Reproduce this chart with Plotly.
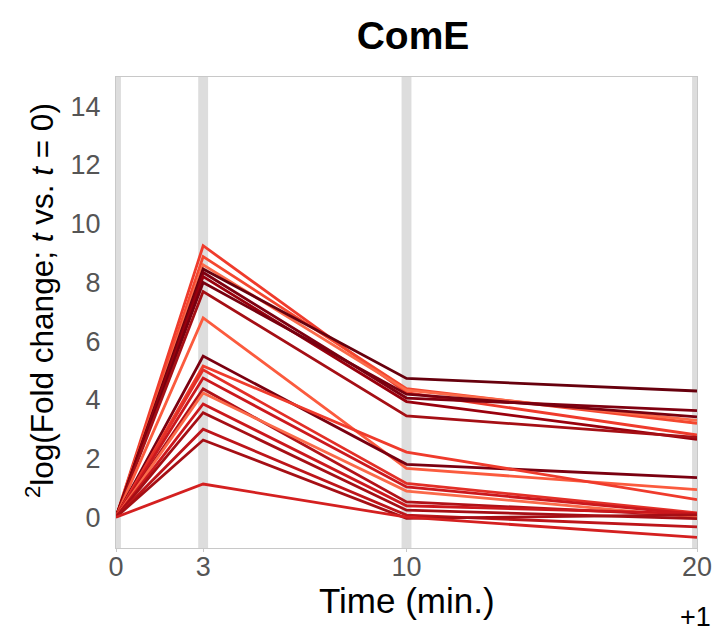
import plotly.graph_objects as go

times = [0, 3, 10, 20]
x_ticks = [0, 3, 10, 20]
y_ticks = [0, 2, 4, 6, 8, 10, 12, 14]

# log2 fold change per gene at t = 0, 3, 10, 20 min
series_values = [
    [0, 9.25, 4.24, 2.80],
    [0, 8.88, 4.38, 3.20],
    [0, 8.60, 4.33, 3.30],
    [0, 8.46, 4.73, 4.30],
    [0, 8.34, 4.06, 3.63],
    [0, 8.20, 3.94, 2.65],
    [0, 8.00, 4.19, 3.42],
    [0, 7.69, 3.45, 2.72],
    [0, 6.79, 1.66, 0.94],
    [0, 5.49, 1.80, 1.35],
    [0, 5.15, 2.22, 0.60],
    [0, 5.02, 1.15, 0.15],
    [0, 4.74, 1.03, 0.10],
    [0, 4.37, 0.52, 0.05],
    [0, 4.23, 0.89, 0.00],
    [0, 3.86, 0.39, 0.12],
    [0, 3.56, 0.24, -0.05],
    [0, 3.00, 0.07, -0.33],
    [0, 2.63, -0.04, 0.08],
    [0, 1.13, 0.00, -0.69],
]
series_colors = [
    "#ef3b2c", "#f4472f", "#fb6a4a", "#67000d", "#7f0010",
    "#99000d", "#78000f", "#a50f15", "#fb5b3e", "#7a0010",
    "#ef3b2c", "#e32f27", "#cb181d", "#b11218", "#fb6a4a",
    "#cb181d", "#a50f15", "#bd151a", "#a50f15", "#d42020",
]

fig = go.Figure()

# grey bands at measured time points
for t in times:
    fig.add_shape(type="rect", xref="x", yref="paper", x0=t - 0.17, x1=t + 0.17,
                  y0=0, y1=1, fillcolor="#dddddd", line_width=0, layer="below")

for vals, col in zip(series_values, series_colors):
    fig.add_trace(go.Scatter(x=times, y=vals, mode="lines",
                             line=dict(color=col, width=2.8), showlegend=False,
                             hoverinfo="skip"))

fig.update_layout(
    width=713, height=633,
    margin=dict(l=116, r=16, t=77, b=85),
    paper_bgcolor="white", plot_bgcolor="white",
    font=dict(family="Liberation Sans, Arial, sans-serif"),
    title=dict(text="<b>ComE</b>", x=413 / 713, xanchor="center", y=1 - 35 / 633,
               yanchor="middle", font=dict(size=39, color="black")),
    xaxis=dict(range=[0, 20], tickvals=x_ticks, ticktext=[str(v) for v in x_ticks],
               showgrid=False, zeroline=False, showline=True, mirror=True,
               linecolor="#c8c8c8", linewidth=1, ticks="outside", ticklen=3,
               tickcolor="#c8c8c8", tickfont=dict(size=27, color="#555555"),
               ticklabelstandoff=-8, automargin=False),
    yaxis=dict(range=[-1.05, 15], tickvals=y_ticks, showgrid=False, zeroline=False,
               showline=True, mirror=True, linecolor="#c8c8c8", linewidth=1,
               ticks="outside", ticklen=9, tickcolor="rgba(0,0,0,0)",
               tickfont=dict(size=27, color="#555555"), automargin=False),
    annotations=[
        dict(text="Time (min.)", xref="paper", yref="paper", x=0.5, y=-(600 - 548) / 471,
             xanchor="center", yanchor="middle", showarrow=False,
             font=dict(size=35, color="black")),
        dict(text="<sup>2</sup>log(Fold change; <i>t</i> vs. <i>t</i> = 0)",
             xref="paper", yref="paper", x=-(116 - 40) / 581, y=(548 - 301) / 471,
             xanchor="center", yanchor="middle", textangle=-90, showarrow=False,
             font=dict(size=31.5, color="black")),
        dict(text="+1", xref="paper", yref="paper", x=1.025, y=-(617 - 548) / 471,
             xanchor="right", yanchor="middle", showarrow=False, borderpad=0,
             font=dict(size=27, color="black")),
    ],
)

fig.write_html("out.html")
